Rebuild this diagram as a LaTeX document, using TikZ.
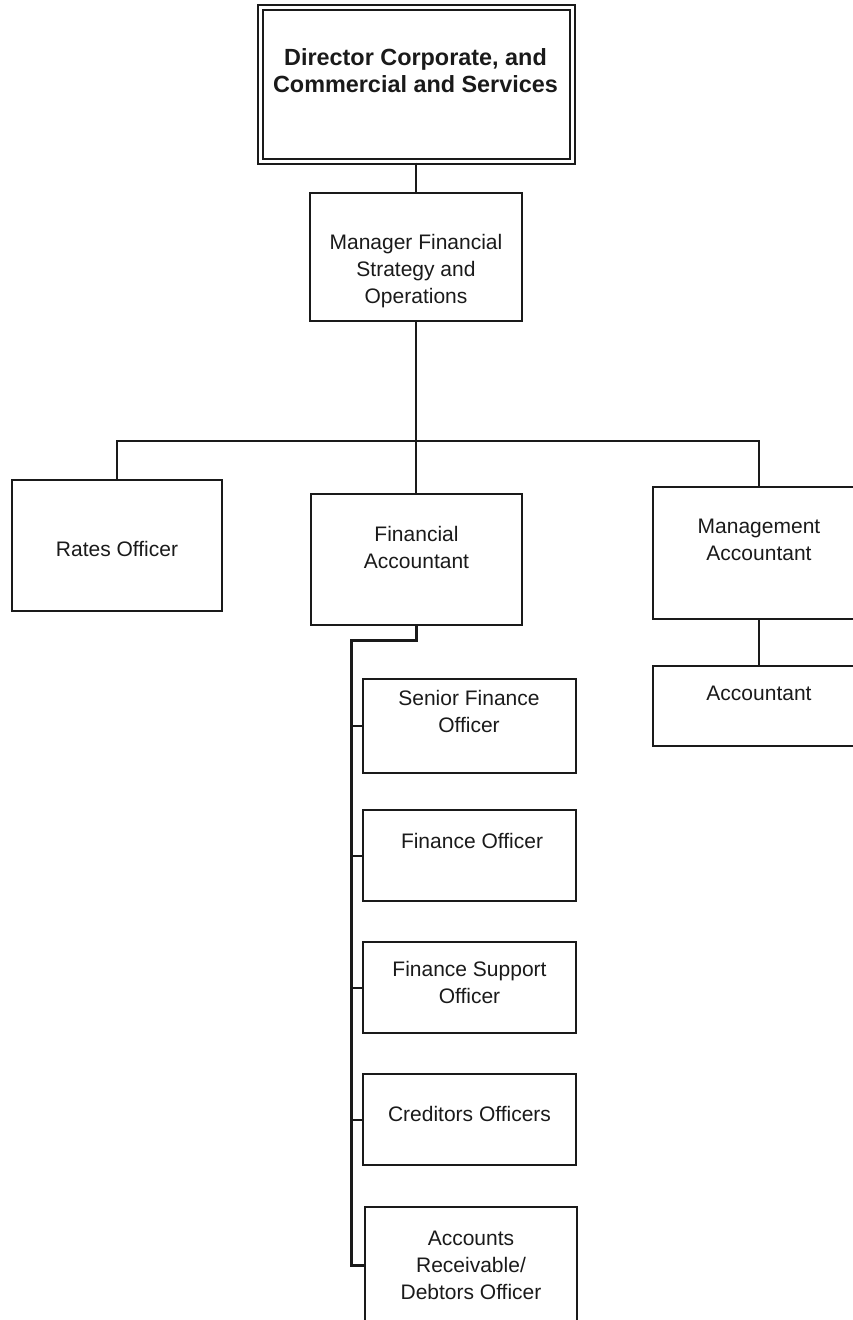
\documentclass[tikz,border=0pt]{standalone}
\usepackage{fontspec}
\setmainfont{Liberation Sans}
\definecolor{cizgi}{HTML}{1A1A1A}

\begin{document}
\begin{tikzpicture}[x=1pt,y=-1pt,
  kutu/.style={draw=cizgi,line width=2pt,inner sep=0pt},
  yazi/.style={align=center,inner sep=0pt,text=cizgi,font=\fontsize{21}{27}\selectfont},
  hat/.style={draw=cizgi,line width=2pt},
  kalinhat/.style={draw=cizgi,line width=3pt}]
\useasboundingbox (0,0) rectangle (853,1320);
% ust kademe
\node[kutu,double,line width=2pt,double distance=3pt,minimum width=312,minimum height=154] (dir) at (416,84.5) {};
\node[yazi,font=\bfseries\fontsize{23.4}{27}\selectfont] (dir-t) at (415.5,71) {Director Corporate, and\\Commercial and Services};
\node[kutu,minimum width=212,minimum height=128] (mgr) at (416,257) {};
\node[yazi] (mgr-t) at (416,271) {Manager Financial\\Strategy and\\Operations};
% ikinci kademe
\node[kutu,minimum width=210,minimum height=131] (rates) at (117,545.5) {};
\node[yazi] (rates-t) at (117,549) {Rates Officer};
\node[kutu,minimum width=211,minimum height=131] (fa) at (416,559.5) {};
\node[yazi] (fa-t) at (416.5,547) {Financial\\Accountant};
\node[kutu,minimum width=212,minimum height=132] (ma) at (759,553) {};
\node[yazi] (ma-t) at (759,540) {Management\\Accountant};
\node[kutu,minimum width=212,minimum height=80] (acc) at (759,706) {};
\node[yazi] (acc-t) at (759,693) {Accountant};
% finans birimi
\node[kutu,minimum width=213,minimum height=94] (sfo) at (469.5,726) {};
\node[yazi] (sfo-t) at (469,711) {Senior Finance\\Officer};
\node[kutu,minimum width=213,minimum height=91] (fo) at (469.5,855.5) {};
\node[yazi] (fo-t) at (472,841) {Finance Officer};
\node[kutu,minimum width=213,minimum height=91] (fso) at (469.5,987.5) {};
\node[yazi] (fso-t) at (469.5,982) {Finance Support\\Officer};
\node[kutu,minimum width=213,minimum height=91] (co) at (469.5,1119.5) {};
\node[yazi] (co-t) at (469.5,1114) {Creditors Officers};
\node[kutu,minimum width=212,minimum height=116] (ar) at (471,1265) {};
\node[yazi] (ar-t) at (471,1265) {Accounts\\Receivable/\\Debtors Officer};
% baglantilar
\coordinate (bus) at (416,441);
\coordinate (kol) at (351,640);
\draw[hat] (dir) -- (mgr);
\draw[hat] (mgr) -- (bus);
\draw[hat] (rates.north) |- (bus) -| (ma.north);
\draw[hat] (bus) -- (fa.north);
\draw[hat] (ma) -- (acc);
\draw[kalinhat] (fa.south) |- (kol) -- (kol |- ar.west) -- (ar.west);
\foreach \k in {sfo,fo,fso,co}
  \draw[hat] (kol |- \k.west) -- (\k.west);
\end{tikzpicture}
\end{document}
